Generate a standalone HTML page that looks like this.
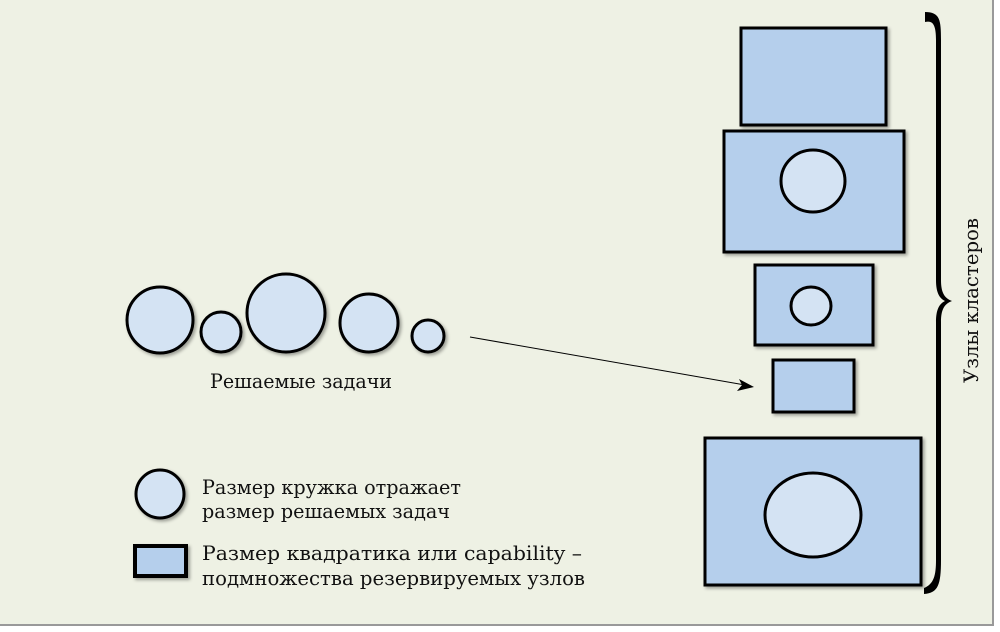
<!DOCTYPE html>
<html><head><meta charset="utf-8"><style>
html,body{margin:0;padding:0;background:#fff;}
svg{display:block}
text{font-family:"DejaVu Serif","Liberation Serif",serif;fill:#111;}
</style></head><body>
<svg width="1000" height="632" viewBox="0 0 1000 632" xmlns="http://www.w3.org/2000/svg">
<defs>
<filter id="sh" x="-20%" y="-20%" width="140%" height="140%">
<feDropShadow dx="2" dy="2" stdDeviation="1.5" flood-color="#000" flood-opacity="0.35"/>
</filter>
</defs>
<rect x="0" y="0" width="1000" height="632" fill="#fff"/>
<rect x="0" y="0" width="993" height="625" fill="#eef1e4"/>
<line x1="993" y1="0" x2="993" y2="626" stroke="#999" stroke-width="2"/>
<line x1="0" y1="625" x2="994" y2="625" stroke="#999" stroke-width="2"/>

<g stroke="#000" stroke-width="3" filter="url(#sh)">
<circle cx="160" cy="320" r="33" fill="#d4e3f3"/>
<circle cx="221" cy="332" r="20" fill="#d4e3f3"/>
<circle cx="286" cy="313" r="39" fill="#d4e3f3"/>
<circle cx="369" cy="323" r="29" fill="#d4e3f3"/>
<circle cx="428" cy="336" r="16" fill="#d4e3f3"/>

<rect x="741" y="28" width="145" height="97" fill="#b5cfec"/>
<rect x="724" y="131" width="180" height="121" fill="#b5cfec"/>
<ellipse cx="813" cy="181" rx="32" ry="31" fill="#d4e3f3"/>
<rect x="755" y="265" width="118" height="80" fill="#b5cfec"/>
<ellipse cx="811" cy="306" rx="20" ry="19" fill="#d4e3f3"/>
<rect x="773" y="360" width="81" height="52" fill="#b5cfec"/>
<rect x="705" y="438" width="216" height="147" fill="#b5cfec"/>
<ellipse cx="813" cy="515" rx="48" ry="42" fill="#d4e3f3"/>

<circle cx="160" cy="494" r="24" fill="#d4e3f3"/>
<rect x="135" y="546" width="51" height="30" fill="#b5cfec" stroke-width="4"/>
</g>

<line x1="470" y1="337" x2="745" y2="385" stroke="#000" stroke-width="1"/>
<polygon points="754,387 739,379 742,385 737,391" fill="#000"/>

<path d="M925,12 C940,12 941,20 941,40 L941,280 C941,292 944,298 952,301 C944,304 941,310 941,322 L941,560 C941,585 938,593 924,594 L924,588 C934,584 936,575 936,560 L936,322 C936,310 939,304 945,301 C939,298 936,292 936,280 L936,40 C936,25 933,20 925,22 Z" fill="#000"/>

<text x="210" y="388" font-size="20" textLength="182" lengthAdjust="spacingAndGlyphs">Решаемые задачи</text>
<text transform="translate(978,383) rotate(-90)" font-size="20" textLength="165" lengthAdjust="spacingAndGlyphs">Узлы кластеров</text>
<text x="202" y="494" font-size="20" textLength="259" lengthAdjust="spacingAndGlyphs">Размер кружка отражает</text>
<text x="202" y="518" font-size="20" textLength="248" lengthAdjust="spacingAndGlyphs">размер решаемых задач</text>
<text x="202" y="560" font-size="20" textLength="380" lengthAdjust="spacingAndGlyphs">Размер квадратика или capability –</text>
<text x="202" y="585" font-size="20" textLength="383" lengthAdjust="spacingAndGlyphs">подмножества резервируемых узлов</text>
</svg>
</body></html>
